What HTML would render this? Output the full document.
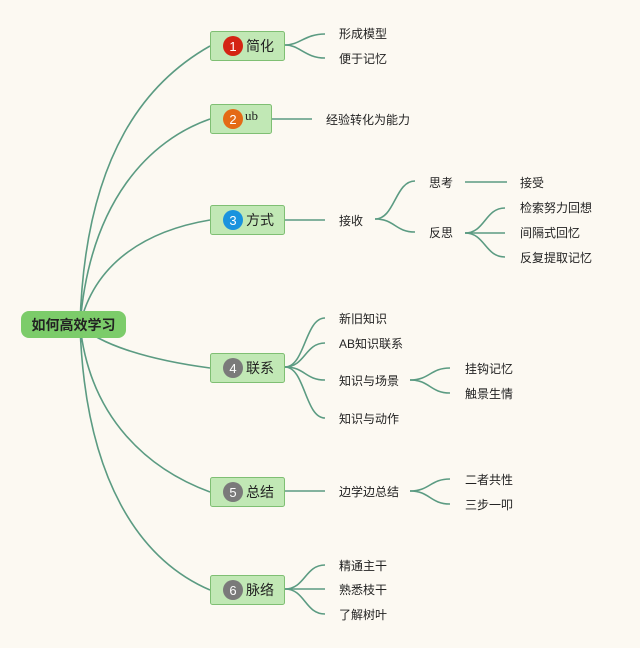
<!DOCTYPE html>
<html><head><meta charset="utf-8"><style>
html,body{margin:0;padding:0;background:#fcf9f2;}
svg{display:block;}
text{font-family:"Liberation Sans","Noto Sans CJK SC",sans-serif;fill:#222;}
.l{font-size:12px;}
.b{font-size:14px;}
</style></head><body>
<svg width="640" height="648" viewBox="0 0 640 648" xmlns="http://www.w3.org/2000/svg">
<rect width="640" height="648" fill="#fcf9f2"/>
<g fill="none" stroke="#5b9b82" stroke-width="1.6">
<!-- root curves -->
<path d="M80 325 C 85 150, 150 80, 210 46"/>
<path d="M80 325 C 90 200, 150 140, 210 119"/>
<path d="M80 325 C 95 260, 150 230, 210 220"/>
<path d="M80 325 C 100 345, 150 360, 210 368"/>
<path d="M80 325 C 90 420, 150 470, 210 492"/>
<path d="M80 325 C 85 480, 140 560, 210 590"/>
<!-- 1 -->
<path d="M285 45 C 300 45, 305 34, 325 34"/>
<path d="M285 45 C 300 45, 305 58, 325 58"/>
<!-- 2 -->
<path d="M271 119 L312 119"/>
<!-- 3 -->
<path d="M285 220 L325 220"/>
<path d="M375 219 C 395 219, 395 181, 415 181"/>
<path d="M375 219 C 395 219, 395 232, 415 232"/>
<path d="M465 182 L507 182"/>
<path d="M465 233 C 485 233, 485 208, 505 208"/>
<path d="M465 233 L505 233"/>
<path d="M465 233 C 485 233, 485 257, 505 257"/>
<!-- 4 -->
<path d="M285 367 C 305 367, 305 318, 325 318"/>
<path d="M285 367 C 305 367, 305 343, 325 343"/>
<path d="M285 367 C 305 367, 305 380, 325 380"/>
<path d="M285 367 C 305 367, 305 418, 325 418"/>
<path d="M410 380 C 430 380, 430 368, 450 368"/>
<path d="M410 380 C 430 380, 430 393, 450 393"/>
<!-- 5 -->
<path d="M285 491 L325 491"/>
<path d="M410 491 C 430 491, 430 479, 450 479"/>
<path d="M410 491 C 430 491, 430 504, 450 504"/>
<!-- 6 -->
<path d="M285 589 C 305 589, 305 565, 325 565"/>
<path d="M285 589 L325 589"/>
<path d="M285 589 C 305 589, 305 614, 325 614"/>
</g>
<!-- root -->
<rect x="21" y="311" width="105" height="27" rx="8" fill="#7ccc6a"/>
<text x="73.5" y="330" text-anchor="middle" style="font-size:14px;font-weight:bold;">如何高效学习</text>
<!-- branch boxes -->
<g fill="#c1e8b5" stroke="#7fbf73" stroke-width="1">
<rect x="210.5" y="31.5" width="74" height="29" rx="2"/>
<rect x="210.5" y="104.5" width="61" height="29" rx="2"/>
<rect x="210.5" y="205.5" width="74" height="29" rx="2"/>
<rect x="210.5" y="353.5" width="74" height="29" rx="2"/>
<rect x="210.5" y="477.5" width="74" height="29" rx="2"/>
<rect x="210.5" y="575.5" width="74" height="29" rx="2"/>
</g>
<g>
<circle cx="233" cy="46" r="10" fill="#d42414"/>
<circle cx="233" cy="119" r="10" fill="#e46a15"/>
<circle cx="233" cy="220" r="10" fill="#1a93de"/>
<circle cx="233" cy="368" r="10" fill="#7a7a7a"/>
<circle cx="233" cy="492" r="10" fill="#7a7a7a"/>
<circle cx="233" cy="590" r="10" fill="#7a7a7a"/>
</g>
<g style="font-size:13px;" text-anchor="middle">
<text x="233" y="51" style="fill:#fff">1</text>
<text x="233" y="124" style="fill:#fff">2</text>
<text x="233" y="225" style="fill:#fff">3</text>
<text x="233" y="373" style="fill:#fff">4</text>
<text x="233" y="497" style="fill:#fff">5</text>
<text x="233" y="595" style="fill:#fff">6</text>
</g>
<text class="b" x="246" y="51">简化</text>
<text x="245" y="120" style="font-family:'Liberation Serif',serif;font-size:13px;">ub</text>
<text class="b" x="246" y="225">方式</text>
<text class="b" x="246" y="373">联系</text>
<text class="b" x="246" y="497">总结</text>
<text class="b" x="246" y="595">脉络</text>
<!-- leaves -->
<g class="l">
<text class="l" x="339" y="38">形成模型</text>
<text class="l" x="339" y="63">便于记忆</text>
<text class="l" x="326" y="124">经验转化为能力</text>
<text class="l" x="339" y="225">接收</text>
<text class="l" x="429" y="187">思考</text>
<text class="l" x="520" y="187">接受</text>
<text class="l" x="429" y="237">反思</text>
<text class="l" x="520" y="212">检索努力回想</text>
<text class="l" x="520" y="237">间隔式回忆</text>
<text class="l" x="520" y="262">反复提取记忆</text>
<text class="l" x="339" y="323">新旧知识</text>
<text class="l" x="339" y="348">AB知识联系</text>
<text class="l" x="339" y="385">知识与场景</text>
<text class="l" x="339" y="423">知识与动作</text>
<text class="l" x="465" y="373">挂钩记忆</text>
<text class="l" x="465" y="398">触景生情</text>
<text class="l" x="339" y="496">边学边总结</text>
<text class="l" x="465" y="484">二者共性</text>
<text class="l" x="465" y="509">三步一叩</text>
<text class="l" x="339" y="570">精通主干</text>
<text class="l" x="339" y="594">熟悉枝干</text>
<text class="l" x="339" y="619">了解树叶</text>
</g>
</svg>
</body></html>
